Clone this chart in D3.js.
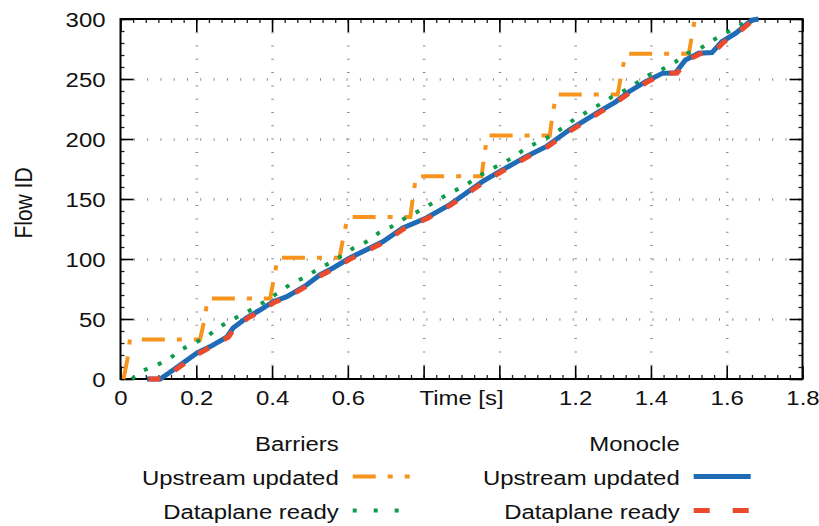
<!DOCTYPE html>
<html>
<head>
<meta charset="utf-8">
<script src="https://cdn.jsdelivr.net/npm/d3@7"></script>
<style>
  body { margin: 0; background: #fff; }
  svg { display: block; }
  text { font-family: "Liberation Sans", Arial, Helvetica, sans-serif; font-size: 21px; fill: #111; }
</style>
</head>
<body>
<svg id="chart" width="819" height="526"></svg>
<script>
'use strict';

// Barriers, upstream updated: time [s] / flow id (staircase)
const barrierUpTime = [0.008, 0.018, 0.025, 0.21, 0.222, 0.23, 0.395, 0.405, 0.415, 0.578, 0.588, 0.6,
                       0.765, 0.772, 0.78, 0.953, 0.96, 0.968, 1.133, 1.14, 1.15, 1.312, 1.322, 1.333,
                       1.5, 1.508, 1.516];
const barrierUpFlow = [0, 16, 33, 33, 50, 67, 67, 84, 101, 101, 118, 135,
                       135, 152, 169, 169, 186, 203, 203, 220, 237, 237, 254, 271,
                       271, 286, 300];

// Barriers, dataplane ready
const barrierReadyTime = [0.03, 0.057, 0.097, 0.132, 0.158, 0.197, 0.228, 0.256, 0.289, 0.324, 0.36, 0.389,
                          0.421, 0.452, 0.487, 0.518, 0.553, 0.587, 0.614, 0.649, 0.68, 0.715, 0.746, 0.776,
                          0.811, 0.842, 0.877, 0.912, 0.943, 0.974, 1.009, 1.039, 1.07, 1.105, 1.14, 1.171,
                          1.202, 1.232, 1.267, 1.298, 1.333, 1.368, 1.395, 1.43, 1.465, 1.496, 1.531, 1.561,
                          1.596, 1.632, 1.662];
const barrierReadyFlow = [0, 6.7, 11.7, 17.5, 24.2, 30.3, 35.3, 42.3, 48.6, 54.2, 60.3, 66.3,
                          72.8, 79.8, 84.8, 90.8, 96.9, 103.3, 108.9, 114.4, 121.4, 126.9, 133.1, 138.1,
                          144.2, 150, 156.1, 161.7, 168.6, 174.2, 179.8, 185.3, 192.3, 197.8, 203.3, 210.3,
                          217.3, 222.8, 229.2, 235.3, 240.8, 247.8, 253.3, 258.1, 264.4, 271.4, 275.6, 281.9,
                          288.1, 294.2, 300];

// Monocle, upstream updated
const monocleUpTime = [0.07, 0.105, 0.139, 0.202, 0.237, 0.281, 0.297, 0.333, 0.368, 0.403, 0.439, 0.491,
                       0.526, 0.561, 0.605, 0.692, 0.745, 0.807, 0.868, 0.955, 1.0, 1.07, 1.123, 1.184,
                       1.263, 1.307, 1.342, 1.386, 1.43, 1.465, 1.491, 1.526, 1.561, 1.587, 1.623, 1.666,
                       1.684];
const monocleUpFlow = [0, 0, 7.5, 21.7, 27, 35, 42.5, 51, 57.5, 64.4, 68.6, 78.3,
                       86.7, 92.5, 100.8, 114.4, 125.8, 134.2, 145, 164.4, 172.8, 185.3, 193.6, 207.5,
                       222.8, 231, 239.4, 247.8, 254.7, 255.2, 265.8, 271.4, 272, 281, 288, 299,
                       300];

// Monocle, dataplane ready
const monocleReadyTime = [0.074, 0.113, 0.142, 0.205, 0.24, 0.285, 0.3, 0.337, 0.372, 0.407, 0.443, 0.495,
                          0.53, 0.565, 0.609, 0.696, 0.749, 0.811, 0.872, 0.959, 1.004, 1.074, 1.127, 1.188,
                          1.267, 1.311, 1.346, 1.39, 1.434, 1.469, 1.495, 1.53, 1.565, 1.591, 1.627, 1.67,
                          1.684];
const monocleReadyFlow = [0, 0, 7, 21, 27, 35, 42, 51, 57, 64, 68.5, 78,
                          86.5, 92, 100.5, 114, 125.5, 134, 145, 164, 172.5, 185, 193.5, 207,
                          222.5, 231, 239, 247.5, 254.5, 255, 265.5, 271, 272, 280.5, 288, 299,
                          300];

const xTicks = [0, 0.2, 0.4, 0.6, 0.8, 1.0, 1.2, 1.4, 1.6, 1.8];
const xTickLabels = ['0', '0.2', '0.4', '0.6', '', '', '1.2', '1.4', '1.6', '1.8'];
const yTicks = [0, 50, 100, 150, 200, 250, 300];
const groupNames = ['Barriers', 'Monocle'];
const seriesNames = ['Upstream updated', 'Dataplane ready'];

const series = [
  { group: 0, row: 0, time: barrierUpTime, flow: barrierUpFlow, color: '#f7941e', width: 4, dash: '23 12 5 12', keyDash: '23 12 5 12' },
  { group: 0, row: 1, time: barrierReadyTime, flow: barrierReadyFlow, color: '#0e9c4a', width: 4, dash: '4 11', keyDash: '4 17' },
  { group: 1, row: 0, time: monocleUpTime, flow: monocleUpFlow, color: '#1f6bb5', width: 5, dash: null, keyDash: null },
  { group: 1, row: 1, time: monocleReadyTime, flow: monocleReadyFlow, color: '#ec4a2c', width: 5, dash: '12 17', keyDash: '16 23' }
];

const stretch = 'scale(1.14,1)';
const svg = d3.select('#chart');

const x = d3.scaleLinear().domain([0, 1.8]).range([120.5, 802.5]);
const y = d3.scaleLinear().domain([0, 300]).range([379, 19]);
const plotH = y(0) - y(300);
const plotW = x(1.8) - x(0);
const xMinor = d3.range(55).map(i => i / 30);
const yMinor = d3.range(31).map(i => i * 10);

// grid
svg.append('g')
    .attr('transform', `translate(0,${y(0)})`)
    .call(d3.axisBottom(x).tickValues(xTicks.slice(1, -1)).tickSize(-plotH).tickFormat(''))
    .call(g => g.select('.domain').remove())
    .selectAll('line')
      .attr('stroke', '#8a8a8a').attr('stroke-width', 2.5).attr('stroke-dasharray', '1 12.3');
svg.append('g')
    .attr('transform', `translate(${x(0)},0)`)
    .call(d3.axisLeft(y).tickValues(yTicks.slice(1, -1)).tickSize(-plotW).tickFormat(''))
    .call(g => g.select('.domain').remove())
    .selectAll('line')
      .attr('stroke', '#8a8a8a').attr('stroke-width', 2.5).attr('stroke-dasharray', '1 12.3');

// ticks on all four sides
function ticks(axis, tx, ty) {
  const g = svg.append('g').attr('transform', `translate(${tx},${ty})`);
  g.append('g').call(axis(x === null ? y : null));
  return g;
}

function addAxis(make, scale, tx, ty, labels) {
  const g = svg.append('g').attr('transform', `translate(${tx},${ty})`);
  g.append('g')
      .call(make(scale).tickValues(scale === x ? xMinor : yMinor).tickSize(-4).tickFormat(''))
      .call(s => s.select('.domain').remove())
      .selectAll('line').attr('stroke', '#222').attr('stroke-width', 1.3);
  const major = g.append('g')
      .call(make(scale).tickValues(scale === x ? xTicks : yTicks).tickSize(-13)
                      .tickFormat(labels ? labels : ''));
  major.select('.domain').remove();
  major.selectAll('line').attr('stroke', '#000').attr('stroke-width', 1.6);
  return major;
}

const bottom = addAxis(d3.axisBottom, x, 0, y(0), (d, i) => xTickLabels[i]);
bottom.selectAll('text')
    .attr('y', 26).attr('dy', 0).attr('transform', stretch);
addAxis(d3.axisTop, x, 0, y(300), null);
const left = addAxis(d3.axisLeft, y, x(0), 0, d => String(d));
left.selectAll('text')
    .attr('x', -15 / 1.14).attr('dy', '0.36em').attr('transform', stretch);
addAxis(d3.axisRight, y, x(1.8), 0, null);

svg.append('rect')
    .attr('x', x(0)).attr('y', y(300))
    .attr('width', plotW).attr('height', plotH)
    .attr('fill', 'none').attr('stroke', '#000').attr('stroke-width', 2);

// axis titles
svg.append('text')
    .attr('text-anchor', 'middle')
    .attr('transform', `translate(461.5,405) ${stretch}`)
    .text('Time [s]');
svg.append('text')
    .attr('text-anchor', 'middle')
    .attr('transform', `translate(31.5,203) ${stretch} rotate(-90)`)
    .text('Flow ID');

// series
const line = d3.line().x(d => x(d[0])).y(d => y(d[1]));
series.forEach(s => {
  svg.append('path')
      .datum(d3.zip(s.time, s.flow))
      .attr('fill', 'none')
      .attr('stroke', s.color)
      .attr('stroke-width', s.width)
      .attr('stroke-dasharray', s.dash)
      .attr('d', line);
});

// key
const keyTextX = [338.7, 679.7];
const keyRowY = [450.5, 484.5, 518.5];
groupNames.forEach((name, gi) => {
  svg.append('text')
      .attr('text-anchor', 'end')
      .attr('transform', `translate(${keyTextX[gi]},${keyRowY[0]}) ${stretch}`)
      .text(name);
});
series.forEach(s => {
  const tx = keyTextX[s.group];
  const ty = keyRowY[s.row + 1];
  svg.append('text')
      .attr('text-anchor', 'end')
      .attr('transform', `translate(${tx},${ty}) ${stretch}`)
      .text(seriesNames[s.row]);
  svg.append('line')
      .attr('x1', tx + 14).attr('x2', tx + 71)
      .attr('y1', ty - 8).attr('y2', ty - 8)
      .attr('stroke', s.color)
      .attr('stroke-width', s.width)
      .attr('stroke-dasharray', s.keyDash);
});
</script>
</body>
</html>
